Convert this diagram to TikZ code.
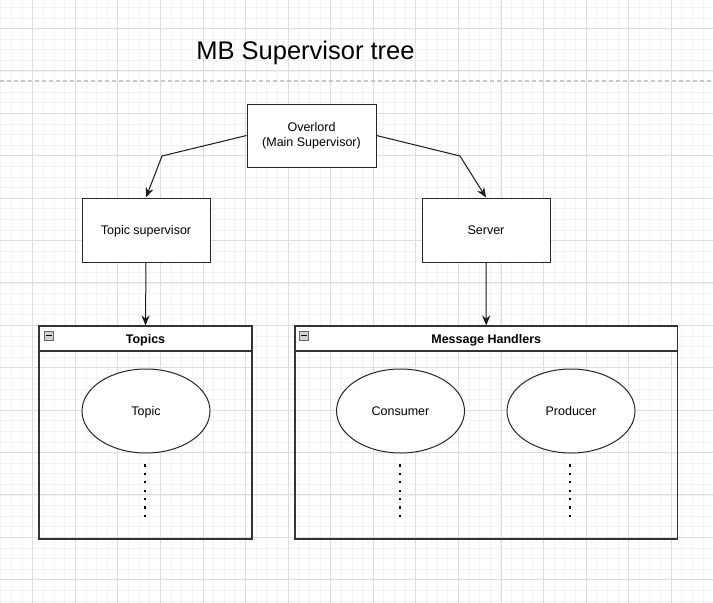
\documentclass[tikz,border=0pt]{standalone}
\usepackage{fontspec}
\setmainfont{Liberation Sans}
\usetikzlibrary{arrows.meta,shapes.geometric}
\definecolor{gridminor}{HTML}{F3F3F3}
\definecolor{gridmajor}{HTML}{DEDEDE}
\definecolor{dashcol}{HTML}{C8C8C8}
\tikzset{
  minorline/.style={draw=gridminor,line width=0.8pt},
  majorline/.style={draw=gridmajor,line width=0.8pt},
  boxnode/.style={draw=black!85,fill=white,line width=1pt,align=center,font=\fontsize{12.5}{15}\selectfont,inner sep=0pt},
  oneline/.style={text height=9pt,text depth=0pt},
  containerbox/.style={draw=black!80,line width=1.1pt,inner sep=0pt},
  headerbox/.style={draw=black!80,fill=white,line width=1.1pt,inner sep=0pt,font=\fontsize{12.5}{15}\selectfont\bfseries,text height=9pt,text depth=0pt},
  ellnode/.style={ellipse,draw=black!85,fill=white,line width=1pt,inner sep=0pt,font=\fontsize{12.5}{15}\selectfont,text height=9pt,text depth=0pt},
  conn/.style={draw=black!90,line width=1pt,-{Stealth[length=10pt,width=8pt]}},
  dotmark/.style={fill=black,draw=none},
  iconbox/.style={draw=gray!80!black,fill=gray!35,line width=0.6pt}
}
\begin{document}
\begin{tikzpicture}[x=1pt,y=-1pt]
\useasboundingbox (0,0) rectangle (713,603);
\fill[white] (0,0) rectangle (713,603);
% grid
\foreach \i in {0,...,68} {\draw[minorline] ({0.78+10.64*\i},0) -- ++(0,603);}
\foreach \i in {0,...,57} {\draw[minorline] (0,{-3.3+10.6*\i}) -- ++(713,0);}
\foreach \i in {0,...,16} {\draw[majorline] ({32.7+42.57*\i},0) -- ++(0,603);}
\foreach \i in {0,...,14} {\draw[majorline] (0,{28.3+42.4*\i}) -- ++(713,0);}
% title and separator
\node[font=\fontsize{25.5}{30}\selectfont,inner sep=0pt,text height=18.5pt,text depth=0pt] (title) at (305.5,50.5) {MB Supervisor tree};
\draw[dashcol,line width=1.1pt,dash pattern=on 3.5pt off 3.5pt] (0,81) -- (713,81);
% main boxes
\node[boxnode,minimum width=129pt,minimum height=63pt] (ov) at (311.5,135.5) {Overlord\\(Main Supervisor)};
\node[boxnode,oneline,minimum width=128pt,minimum height=64pt] (ts) at (146,230) {Topic supervisor};
\node[boxnode,oneline,minimum width=128pt,minimum height=64pt] (sv) at (486,230) {Server};
% containers
\node[containerbox,minimum width=213pt,minimum height=213pt] (tc) at (145.5,432.5) {};
\node[headerbox,minimum width=213pt,minimum height=25pt] (th) at (145.5,338.5) {Topics};
\node[containerbox,minimum width=382.5pt,minimum height=213pt] (mc) at (486.25,432.5) {};
\node[headerbox,minimum width=382.5pt,minimum height=25pt] (mh) at (486.25,338.5) {Message Handlers};
% collapse icons
\draw[iconbox] (44.5,331) rectangle (53.5,340);
\draw[black,line width=1pt] (46,335.5) -- (52,335.5);
\draw[iconbox] (299.5,331) rectangle (308.5,340);
\draw[black,line width=1pt] (301,335.5) -- (307,335.5);
% ellipses
\node[ellnode,minimum width=128pt,minimum height=84pt] (topic) at (146,411) {Topic};
\node[ellnode,minimum width=128pt,minimum height=84pt] (cons) at (400.5,411) {Consumer};
\node[ellnode,minimum width=128pt,minimum height=84pt] (prod) at (571,411) {Producer};
% dots
\foreach \cx in {145,400,570} {
  \foreach \k in {0,...,6} {\fill[dotmark] ({\cx-1.2},{464.2+8.44*\k}) rectangle ++(2.4,2.4);}
}
% connectors
\coordinate (b1) at (162,156);
\coordinate (b2) at (460,156);
\draw[conn] (ov.west) -- (b1) -- (ts.north);
\draw[conn] (ov.east) -- (b2) -- (sv.north);
\draw[conn] (ts.south) -- (th.north);
\draw[conn] (sv.south) -- (mh.north);
\end{tikzpicture}
\end{document}
